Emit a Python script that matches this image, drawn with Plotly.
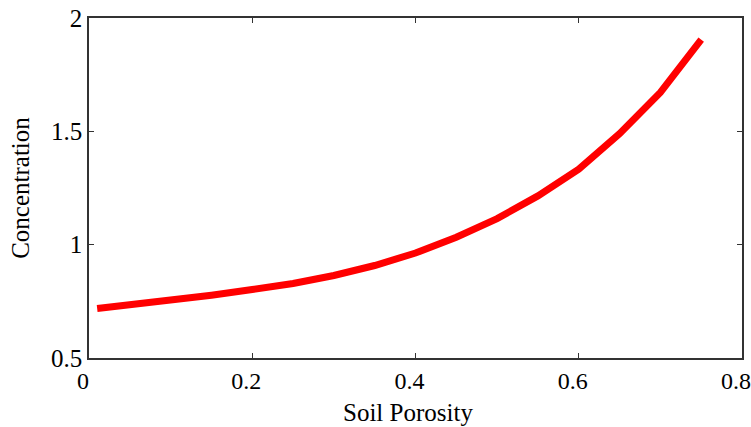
import plotly.graph_objects as go

porosity = [0.01, 0.05, 0.1, 0.15, 0.2, 0.25, 0.3, 0.35, 0.4, 0.45, 0.5, 0.55, 0.6, 0.65, 0.7, 0.75]
concentration = [0.718, 0.733, 0.754, 0.777, 0.802, 0.829, 0.864, 0.908, 0.963, 1.033, 1.115, 1.215, 1.333, 1.49, 1.672, 1.905]

x_ticks = [0, 0.2, 0.4, 0.6, 0.8]
x_tick_labels = ["0", "0.2", "0.4", "0.6", "0.8"]
y_ticks = [0.5, 1, 1.5, 2]
y_tick_labels = ["0.5", "1", "1.5", "2"]

x_title = "Soil Porosity"
y_title = "Concentration"

font_family = "Liberation Serif"

fig = go.Figure()
fig.add_trace(go.Scatter(
    x=porosity, y=concentration, mode="lines",
    line=dict(color="#ff0000", width=7),
    showlegend=False,
))

axis_common = dict(
    showgrid=False, zeroline=False, showline=True, linecolor="#333333", linewidth=1.5,
    mirror="ticks", ticks="inside", ticklen=5, tickwidth=1.2, tickcolor="#333333",
    ticklabeloverflow="allow", automargin=False,
)

fig.update_layout(
    width=751, height=427,
    margin=dict(l=89, r=9, t=18, b=69),
    paper_bgcolor="white", plot_bgcolor="white",
    xaxis=dict(range=[0, 0.8], tickvals=x_ticks, ticktext=x_tick_labels,
               tickfont=dict(family=font_family, size=24, color="#000000"),
               ticklabelshift=-6,
               **axis_common),
    yaxis=dict(range=[0.5, 2], tickvals=y_ticks, ticktext=y_tick_labels,
               tickfont=dict(family=font_family, size=25, color="#000000"),
               title=dict(text=y_title, font=dict(family=font_family, size=25, color="#000000"), standoff=14),
               **axis_common),
)

fig.add_annotation(
    text=x_title, xref="paper", yref="paper", x=0.5, y=0,
    xanchor="center", yanchor="middle", xshift=-8, yshift=-54, showarrow=False,
    font=dict(family=font_family, size=25, color="#000000"),
)

fig.write_html("out.html")
